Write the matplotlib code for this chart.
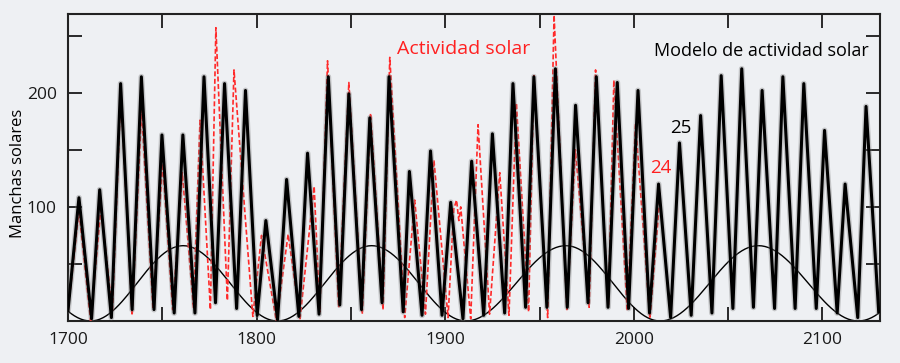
import numpy as np
import matplotlib
matplotlib.use("Agg")
import matplotlib.pyplot as plt
from matplotlib.ticker import MultipleLocator, FuncFormatter

# Model (thick black) cycle extrema: year, sunspots
model_years = [1700, 1705.8, 1712.5, 1716.8, 1723, 1727.9, 1734, 1738.9, 1745.6, 1749.8,
               1756.3, 1760.9, 1767.3, 1772.1, 1778.2, 1783, 1789.4, 1794.1, 1800.3, 1804.9,
               1811.1, 1815.9, 1822.4, 1827, 1833.1, 1838, 1844.1, 1848.9, 1855.6, 1860,
               1866.5, 1870.2, 1877.7, 1881, 1887.7, 1892.2, 1898.3, 1902.9, 1909.4, 1914,
               1920.4, 1925, 1931.5, 1935.9, 1942.6, 1947, 1953.9, 1958.4, 1964.7, 1969.1,
               1975.7, 1980.1, 1986.3, 1991.2, 1997.2, 2002.2, 2008.3, 2013.1, 2019.5, 2024.2,
               2030.4, 2035.4, 2041.4, 2046.3, 2052.5, 2057.2, 2063.4, 2068, 2074.6, 2079,
               2085.5, 2090.1, 2096.7, 2101.1, 2107.8, 2112, 2118.7, 2123.1, 2129.8]
model_vals = [9, 108, 2, 115, 3, 208, 10, 214, 10, 163,
              7, 163, 7, 214, 16, 208, 11, 202, 5, 88,
              1, 124, 4, 147, 6, 214, 14, 199, 10, 178,
              16, 214, 8, 131, 5, 149, 5, 104, 2, 140,
              5, 164, 7, 208, 12, 214, 12, 221, 12, 189,
              16, 214, 12, 209, 11, 202, 7, 120, 3, 156,
              5, 180, 7, 215, 11, 221, 12, 202, 11, 214,
              11, 208, 11, 167, 7, 120, 3, 188, 8]

# Observed solar activity (red dashed)
obs_years = [1700, 1705.8, 1712, 1717.5, 1723.5, 1728, 1734, 1739, 1745, 1750.2,
             1755.5, 1760.6, 1766.5, 1770, 1775.5, 1778.4, 1784.5, 1788, 1798, 1802.6,
             1810.5, 1816.7, 1823, 1830.5, 1833.5, 1837.6, 1843.5, 1848.9, 1856, 1860.4,
             1867, 1870.6, 1878.5, 1883.8, 1889.5, 1894, 1901.5, 1904.5, 1906, 1907.2,
             1908.2, 1913.5, 1917.4, 1923.5, 1928.9, 1933.8, 1937.7, 1944.2, 1947, 1954.3,
             1957.7, 1964.5, 1969, 1976.3, 1979.7, 1986.5, 1989.4, 1996.5, 2000.9, 2008.5,
             2014]
obs_vals = [8, 97, 0, 100, 8, 200, 5, 185, 12, 138,
            10, 130, 12, 176, 10, 257, 18, 220, 4, 75,
            0, 76, 2, 118, 8, 228, 12, 209, 6, 182,
            10, 231, 3, 106, 6, 141, 3, 98, 106, 88,
            100, 2, 172, 6, 130, 5, 191, 8, 215, 3,
            268, 10, 150, 12, 220, 13, 211, 9, 173, 2,
            113]

# Long-period modulation (thin black) extrema
mod_years = [1661, 1712, 1761, 1811, 1861, 1911, 1964, 2014, 2066, 2119, 2171]
mod_vals = [66, 0, 66, 0, 66, 0, 66, 0, 66, 0, 66]

x_ticks = [1700, 1800, 1900, 2000, 2100]
y_ticks = [100, 200]

BG = '#eef0f3'
FONT = ['Open Sans', 'DejaVu Sans']
plt.rcParams['font.family'] = FONT

fig = plt.figure(figsize=(9, 3.63), dpi=100, facecolor=BG)
ax = fig.add_axes([68/900, 42/363, 812/900, 307/363], facecolor=BG)

# thin modulation curve (half-cosine between read extrema)
xs, ys = [], []
for i in range(len(mod_years) - 1):
    t = np.linspace(0, 1, 60)
    xs.append(mod_years[i] + (mod_years[i+1] - mod_years[i]) * t)
    ys.append(mod_vals[i] + (mod_vals[i+1] - mod_vals[i]) * (1 - np.cos(np.pi * t)) / 2)
ax.plot(np.concatenate(xs), np.concatenate(ys), color='black', lw=1.0, zorder=2)

# observed
ax.plot(obs_years, obs_vals, color='#ff2a2a', lw=1.2, ls=(0, (3, 1.5)), zorder=3)

# model with slight glow
ax.plot(model_years, model_vals, color='#777777', lw=4.2, alpha=0.35,
        solid_joinstyle='round', zorder=4)
ax.plot(model_years, model_vals, color='black', lw=2.2,
        solid_joinstyle='round', zorder=5)

ax.set_xlim(1700, 2130.5)
ax.set_ylim(0, 269)

ax.xaxis.set_major_locator(MultipleLocator(50))
ax.yaxis.set_major_locator(MultipleLocator(50))
ax.xaxis.set_major_formatter(FuncFormatter(lambda v, p: f"{int(v)}" if int(round(v)) in x_ticks else ""))
ax.yaxis.set_major_formatter(FuncFormatter(lambda v, p: f"{int(v)}" if int(round(v)) in y_ticks else ""))
ax.tick_params(direction='in', length=10, width=1.3, top=True, right=True,
               labelsize=12.5, pad=8, colors='#1a1a1a')
for s in ax.spines.values():
    s.set_linewidth(1.5)
    s.set_color('#222222')

ax.set_ylabel('Manchas solares', fontsize=12)
ax.yaxis.set_label_coords(-0.052, 0.48)

ax.text(1874.3, 238, 'Actividad solar', color='#ff2020', fontsize=14, va='center', ha='left')
ax.text(2124.5, 237, 'Modelo de actividad solar', color='black', fontsize=13, va='center', ha='right')
ax.text(2024.8, 169, '25', color='black', fontsize=13.5, va='center', ha='center')
ax.text(2014.2, 134, '24', color='#ff2020', fontsize=13.5, va='center', ha='center')

fig.savefig('out.png', dpi=100, facecolor=BG)
